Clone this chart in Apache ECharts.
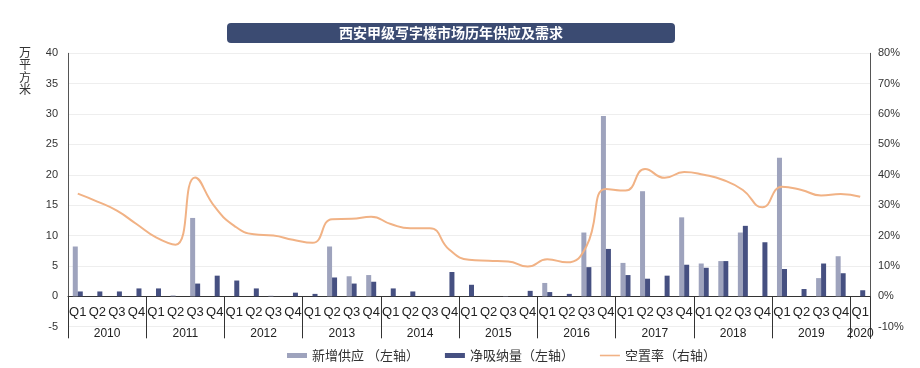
<!DOCTYPE html>
<html>
<head>
<meta charset="utf-8">
<script src="https://cdn.jsdelivr.net/npm/echarts@6/dist/echarts.min.js"></script>
<style>html,body{margin:0;padding:0;background:#fff;}#c{width:920px;height:368px;}</style>
</head>
<body>
<div id="c"></div>
<script>
var quarters = ['Q1','Q2','Q3','Q4','Q1','Q2','Q3','Q4','Q1','Q2','Q3','Q4','Q1','Q2','Q3','Q4','Q1','Q2','Q3','Q4','Q1','Q2','Q3','Q4','Q1','Q2','Q3','Q4','Q1','Q2','Q3','Q4','Q1','Q2','Q3','Q4','Q1','Q2','Q3','Q4','Q1'];
var years = ['2010','2011','2012','2013','2014','2015','2016','2017','2018','2019','2020'];
var supply = [8.2,0,0,0, 0,0.15,12.9,0, 0,0,0.1,0, 0,8.2,3.3,3.5, 0,0,0,0, 0,0,0.05,0, 2.2,0,10.5,29.7, 5.5,17.3,0,13.0, 5.4,5.8,10.5,0, 22.8,0,3.0,6.6, 0];
var absorption = [0.8,0.8,0.8,1.3, 1.3,0,2.1,3.4, 2.6,1.3,0,0.6, 0.4,3.1,2.1,2.4, 1.3,0.8,0,4.0, 1.9,0,0,0.9, 0.7,0.4,4.8,7.8, 3.5,2.9,3.4,5.2, 4.7,5.8,11.6,8.9, 4.5,1.2,5.4,3.8, 1.0];
var vacancy = [33.8,31.2,28.2,23.8, 19.4,17.0,39.1,29.5, 23.2,20.4,20.0,18.6, 17.6,25.4,25.5,26.2, 23.8,22.4,22.4,15.3, 12.0,11.7,11.5,9.8, 12.2,11.2,16.4,35.3, 34.8,41.9,39.0,40.9, 40.0,38.3,35.0,29.3, 36.1,35.0,33.2,33.7, 32.8];
var leftTicks = {min: -5, max: 40, interval: 5};
var rightTicks = {min: -10, max: 80, interval: 10};

var FONT = 'Liberation Sans, Arial, Noto Sans CJK SC, sans-serif';
var chart = echarts.init(document.getElementById('c'));
var n = quarters.length;
chart.setOption({
  animation: false,
  textStyle: {fontFamily: FONT},
  title: [{
    text: '西安甲级写字楼市场历年供应及需求',
    left: 227, top: 23,
    backgroundColor: '#3b4b72',
    borderRadius: 4,
    padding: [3, 112, 3, 112],
    textStyle: {color: '#fff', fontSize: 14, fontWeight: 'bold', lineHeight: 14, fontFamily: 'Noto Sans CJK SC'}
  }, {
    text: '万\n平\n方\n米',
    left: 19, top: 46,
    padding: 0,
    textStyle: {color: '#333', fontSize: 12, fontWeight: 'normal', lineHeight: 12.5, fontFamily: 'Noto Sans CJK SC'}
  }],
  legend: {
    left: 282, top: 344,
    itemWidth: 20, itemHeight: 5, itemGap: 26,
    textStyle: {color: '#333', fontSize: 13, fontFamily: 'Noto Sans CJK SC'},
    data: [
      {name: '新增供应 （左轴）', icon: 'rect'},
      {name: '净吸纳量（左轴）', icon: 'rect'},
      {name: '空置率（右轴）', icon: 'path://M0,0 L20,0 L20,1.6 L0,1.6 Z'}
    ]
  },
  grid: {left: 68, right: 50, top: 53.3, bottom: 41.3, containLabel: false},
  xAxis: [{
    type: 'category',
    data: quarters,
    position: 'bottom',
    axisLine: {onZero: true, lineStyle: {color: '#333', width: 1}},
    axisTick: {show: true, length: 42, lineStyle: {color: '#333'}, interval: function (i) { return i % 4 === 0; }},
    axisLabel: {color: '#222', fontSize: 13, margin: -21, interval: 0},
    splitLine: {show: false}
  }, {
    type: 'value',
    min: 0, max: n, interval: 0.5,
    position: 'bottom',
    axisLine: {show: false, onZero: false},
    axisTick: {show: true, customValues: [n], length: 12, lineStyle: {color: '#333'}},
    splitLine: {show: false},
    axisLabel: {
      color: '#222', fontSize: 12, margin: 1, showMinLabel: true, showMaxLabel: true,
      formatter: function (v) {
        var r = Math.round(v * 2) / 2;
        if (r === n - 0.5) return years[years.length - 1];
        if (Number.isInteger(r) && (r - 2) % 4 === 0) return years[(r - 2) / 4];
        return '';
      }
    }
  }],
  yAxis: [{
    type: 'value',
    min: leftTicks.min, max: leftTicks.max, interval: leftTicks.interval,
    axisLine: {show: true, lineStyle: {color: '#555'}},
    axisTick: {show: false},
    axisLabel: {color: '#333', fontSize: 11, margin: 10},
    splitLine: {show: true, lineStyle: {color: '#eeeeee'}}
  }, {
    type: 'value',
    min: rightTicks.min, max: rightTicks.max, interval: rightTicks.interval,
    axisLine: {show: true, lineStyle: {color: '#555'}},
    axisTick: {show: false},
    axisLabel: {color: '#333', fontSize: 11, margin: 8, formatter: '{value}%'},
    splitLine: {show: false}
  }],
  series: [{
    name: '新增供应 （左轴）',
    type: 'bar',
    data: supply,
    barWidth: 5,
    barGap: '0%',
    itemStyle: {color: '#9ea3bd'}
  }, {
    name: '净吸纳量（左轴）',
    type: 'bar',
    data: absorption,
    barWidth: 5,
    barGap: '0%',
    itemStyle: {color: '#465081'}
  }, {
    name: '空置率（右轴）',
    type: 'line',
    yAxisIndex: 1,
    data: vacancy,
    smooth: 0.5,
    symbol: 'none',
    lineStyle: {color: '#f1b285', width: 2},
    itemStyle: {color: '#f1b285'}
  }]
});
</script>
</body>
</html>
